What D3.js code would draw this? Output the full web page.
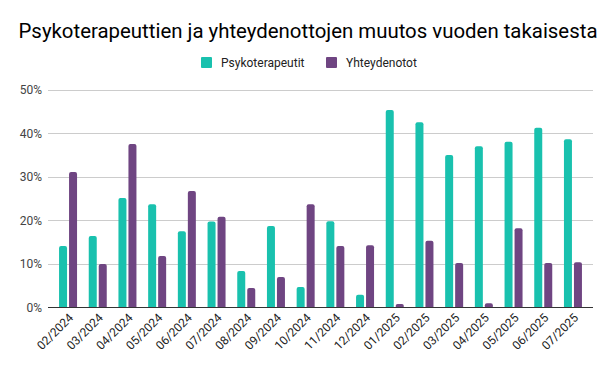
<!DOCTYPE html>
<html>
<head>
<meta charset="utf-8">
<script src="https://cdn.jsdelivr.net/npm/d3@7"></script>
<style>
  body { margin: 0; background: #fff; }
  text { font-family: Roboto, "Noto Sans", sans-serif; }
</style>
</head>
<body>
<div id="chart"></div>
<script>
const months = ["02/2024", "03/2024", "04/2024", "05/2024", "06/2024", "07/2024",
  "08/2024", "09/2024", "10/2024", "11/2024", "12/2024", "01/2025",
  "02/2025", "03/2025", "04/2025", "05/2025", "06/2025", "07/2025"];
const psykoterapeutit = [14.1, 16.4, 25.1, 23.7, 17.5, 19.7, 8.4, 18.7, 4.7, 19.8, 2.9, 45.3,
  42.5, 35.0, 37.0, 38.0, 41.2, 38.6];
const yhteydenotot = [31.1, 10.0, 37.5, 11.8, 26.7, 20.8, 4.5, 7.0, 23.7, 14.1, 14.3, 0.8,
  15.3, 10.2, 1.0, 18.2, 10.2, 10.4];
const seriesNames = ["Psykoterapeutit", "Yhteydenotot"];
const yTicks = [0, 10, 20, 30, 40, 50];

const colors = ["#19c1ae", "#6f4582"];
const width = 612, height = 371;
const margin = { top: 89.5, right: 19, bottom: 63.5, left: 48 };

const svg = d3.select("#chart").append("svg")
  .attr("width", width)
  .attr("height", height);

// title
svg.append("text")
  .attr("x", 308)
  .attr("y", 38)
  .attr("text-anchor", "middle")
  .attr("font-size", 20.4)
  .attr("fill", "#000")
  .text("Psykoterapeuttien ja yhteydenottojen muutos vuoden takaisesta");

// legend
const legendX = [201, 326];
seriesNames.forEach((name, i) => {
  const g = svg.append("g").attr("transform", `translate(${legendX[i]}, 57)`);
  g.append("rect").attr("width", 11).attr("height", 11).attr("rx", 1).attr("fill", colors[i]);
  g.append("text").attr("x", 20).attr("y", 10).attr("font-size", 12)
    .attr("fill", "#222").text(name);
});

const x = d3.scaleBand()
  .domain(months)
  .range([margin.left, width - margin.right])
  .paddingInner(0)
  .paddingOuter(0.175);

const y = d3.scaleLinear()
  .domain([0, 50])
  .range([height - margin.bottom, margin.top]);

// grid
svg.append("g")
  .selectAll("line")
  .data(yTicks.slice(1))
  .join("line")
  .attr("x1", margin.left)
  .attr("x2", width - margin.right)
  .attr("y1", d => Math.round(y(d)) + 0.5)
  .attr("y2", d => Math.round(y(d)) + 0.5)
  .attr("stroke", "#cccccc")
  .attr("stroke-width", 1);

// y labels
svg.append("g")
  .selectAll("text")
  .data(yTicks)
  .join("text")
  .attr("x", 42)
  .attr("y", d => y(d) + 4.5)
  .attr("text-anchor", "end")
  .attr("font-size", 12)
  .attr("fill", "#444")
  .text(d => d + "%");

// bars
const barW = 8, gap = 2;
const data = months.map((m, i) => ({ m, vals: [psykoterapeutit[i], yhteydenotot[i]] }));
const groups = svg.append("g").selectAll("g")
  .data(data)
  .join("g")
  .attr("transform", d => `translate(${x(d.m) + x.bandwidth() / 2}, 0)`);

groups.selectAll("path")
  .data(d => d.vals.map((v, i) => ({ v, i })))
  .join("path")
  .attr("fill", d => colors[d.i])
  .attr("d", d => {
    const x0 = d.i === 0 ? -barW - gap / 2 : gap / 2;
    const y0 = y(d.v), y1 = y(0);
    const r = Math.min(2, (y1 - y0) / 2);
    return `M${x0},${y1}V${y0 + r}Q${x0},${y0} ${x0 + r},${y0}H${x0 + barW - r}` +
      `Q${x0 + barW},${y0} ${x0 + barW},${y0 + r}V${y1}Z`;
  });

// baseline
svg.append("line")
  .attr("x1", margin.left)
  .attr("x2", width - margin.right)
  .attr("y1", y(0))
  .attr("y2", y(0))
  .attr("stroke", "#333")
  .attr("stroke-width", 1);

// x labels
svg.append("g")
  .selectAll("text")
  .data(months)
  .join("text")
  .attr("transform", d => `translate(${x(d) + x.bandwidth() / 2 + 6}, ${y(0) + 11}) rotate(-45)`)
  .attr("text-anchor", "end")
  .attr("font-size", 12)
  .attr("fill", "#222")
  .text(d => d);
</script>
</body>
</html>
